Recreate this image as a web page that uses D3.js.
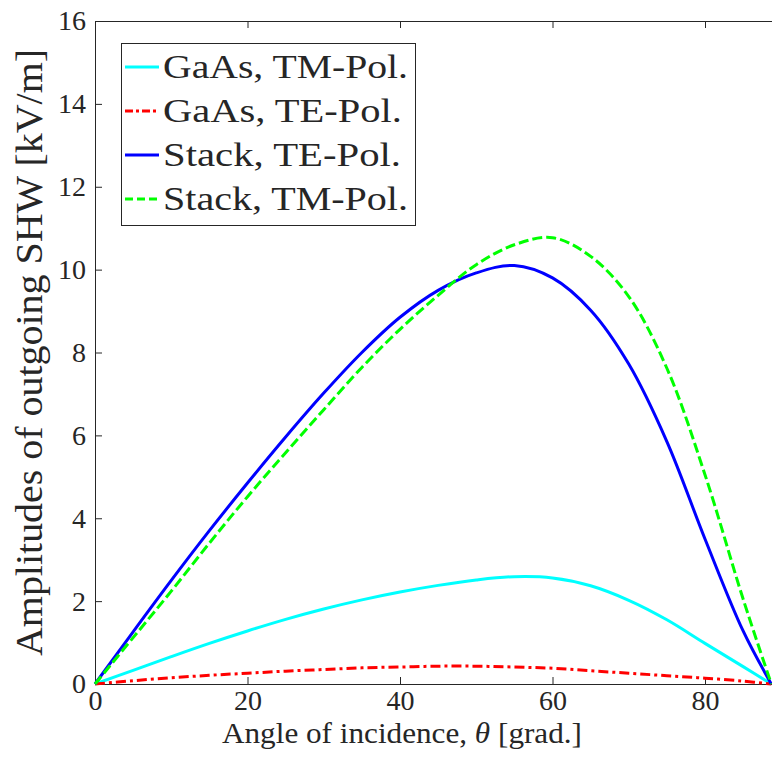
<!DOCTYPE html>
<html>
<head>
<meta charset="utf-8">
<script src="https://cdn.jsdelivr.net/npm/d3@7/dist/d3.min.js"></script>
<style>
body { margin: 0; background: #fff; }
.axis path, .axis line { stroke: #262626; stroke-width: 1; }
</style>
</head>
<body>
<svg id="graph" width="772" height="769"></svg>
<script>
// values (angle in degrees, amplitude in kV/m)
var angles  = [0, 5, 10, 15, 20, 25, 30, 35, 40, 45, 50, 55, 60, 65, 70, 75, 80, 85, 88.7];
var gaasTM  = [0, 0.33, 0.66, 0.98, 1.28, 1.56, 1.81, 2.03, 2.22, 2.38, 2.51, 2.59, 2.56, 2.37, 2.02, 1.55, 0.98, 0.42, 0];
var gaasTE  = [0, 0.08, 0.15, 0.21, 0.26, 0.31, 0.35, 0.39, 0.41, 0.43, 0.43, 0.41, 0.38, 0.32, 0.26, 0.20, 0.14, 0.07, 0];
var stackTE = [0, 1.26, 2.50, 3.70, 4.85, 5.96, 7.02, 8.00, 8.85, 9.50, 9.92, 10.10, 9.80, 9.02, 7.72, 5.85, 3.50, 1.28, 0];
var stackTM = [0, 1.12, 2.24, 3.40, 4.52, 5.58, 6.62, 7.64, 8.56, 9.38, 10.12, 10.60, 10.77, 10.32, 9.35, 7.62, 5.05, 2.05, 0];

var seriesNames = ["GaAs, TM-Pol.", "GaAs, TE-Pol.", "Stack, TE-Pol.", "Stack, TM-Pol."];
var seriesValues = [gaasTM, gaasTE, stackTE, stackTM];
var seriesColors = ["#00ffff", "#ff0000", "#0000ff", "#00ff00"];
var seriesDash = [null, "10,4,3,4", null, "10,4"];

var xTicks = [0, 20, 40, 60, 80];
var yTicks = [0, 2, 4, 6, 8, 10, 12, 14, 16];

var fontStack = "'Liberation Serif', 'Times New Roman', serif";

var margin = {top: 21, left: 95},
	height = 663,
	graph = d3.select("#graph");

var x = d3.scaleLinear().domain([0, 90]).range([margin.left, margin.left + 7.625 * 90]),
	y = d3.scaleLinear().domain([0, 16]).range([margin.top + height, margin.top]);

//axes
graph.append("g")
	.attr("class", "axis")
	.attr("transform", "translate(0," + y(0) + ")")
	.call(d3.axisBottom(x).tickValues(xTicks).tickSizeInner(-7).tickSizeOuter(0).tickPadding(6));

graph.append("g")
	.attr("class", "axis")
	.attr("transform", "translate(0," + y(16) + ")")
	.call(d3.axisTop(x).tickValues(xTicks).tickSizeInner(-7).tickSizeOuter(0).tickFormat(""));

graph.append("g")
	.attr("class", "axis")
	.attr("transform", "translate(" + x(0) + ",0)")
	.call(d3.axisLeft(y).tickValues(yTicks).tickSizeInner(-7).tickSizeOuter(0).tickPadding(9));

graph.selectAll(".axis").attr("font-family", null).attr("font-size", null);
graph.selectAll(".axis .domain").attr("fill", "none");
graph.selectAll(".axis text").style("font-size", "28px");

//labels
var xl = graph.append("text")
	.attr("x", 402).attr("y", 743)
	.attr("text-anchor", "middle")
	.attr("textLength", 360).attr("lengthAdjust", "spacingAndGlyphs")
	.style("font-size", "29px")
	.text("Angle of incidence, ");
xl.append("tspan").style("font-style", "italic").text("θ");
xl.append("tspan").text(" [grad.]");

graph.append("text")
	.attr("transform", "translate(42," + ((y(0) + y(16)) / 2) + ") rotate(-90)")
	.attr("text-anchor", "middle")
	.attr("textLength", 607).attr("lengthAdjust", "spacingAndGlyphs")
	.style("font-size", "38px")
	.text("Amplitudes of outgoing SHW [kV/m]");

//curves
var line = d3.line()
	.x(function(d) { return x(d[0]); })
	.y(function(d) { return y(d[1]); })
	.curve(d3.curveCatmullRom.alpha(0.5));

seriesValues.forEach(function(vals, i) {
	graph.append("path")
		.datum(angles.map(function(a, j) { return [a, vals[j]]; }))
		.attr("fill", "none")
		.attr("stroke", seriesColors[i])
		.attr("stroke-width", 3)
		.attr("stroke-dasharray", seriesDash[i])
		.attr("d", line);
});

//legend
var legendWidths = [245, 239, 238, 245];
var legend = graph.append("g");
legend.append("rect")
	.attr("x", 121.5).attr("y", 43.5)
	.attr("width", 294).attr("height", 182)
	.attr("fill", "#fff").attr("stroke", "#262626").attr("stroke-width", 1);

seriesNames.forEach(function(name, i) {
	var ly = 67 + i * 44;
	legend.append("line")
		.attr("x1", 125).attr("x2", 159)
		.attr("y1", ly).attr("y2", ly)
		.attr("stroke", seriesColors[i])
		.attr("stroke-width", 3)
		.attr("stroke-dasharray", seriesDash[i] ? (i == 1 ? "8,3,3,3" : "8,4") : null);
	legend.append("text")
		.attr("x", 163).attr("y", ly + 11)
		.attr("textLength", legendWidths[i]).attr("lengthAdjust", "spacingAndGlyphs")
		.style("font-size", "34px")
		.text(name);
});

graph.selectAll("text").style("font-family", fontStack).style("fill", "#262626");
</script>
</body>
</html>
